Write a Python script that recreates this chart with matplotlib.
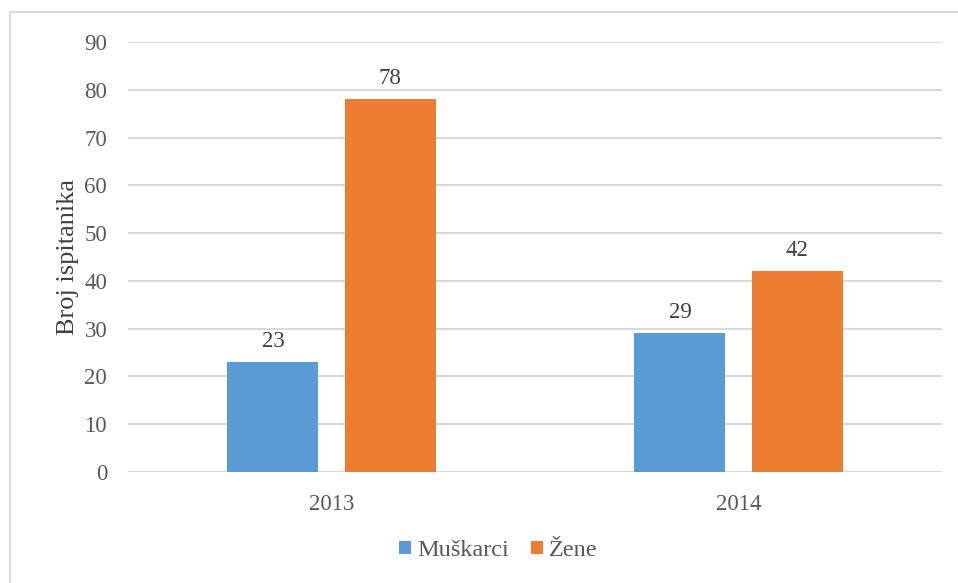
import numpy as np
import matplotlib
matplotlib.use("Agg")
import matplotlib.pyplot as plt
from matplotlib.patches import Rectangle

# podaci
godine = ["2013", "2014"]
muskarci = [23, 29]
zene = [78, 42]
serije = ["Muškarci", "Žene"]
y_ticks = [0, 10, 20, 30, 40, 50, 60, 70, 80, 90]

plt.rcParams['font.family'] = ['Liberation Serif', 'DejaVu Serif']

fig = plt.figure(figsize=(9.58, 5.83), dpi=100)
ax = fig.add_axes([128 / 958, 1 - 472 / 583, 814 / 958, 430 / 583])

# okvir grafikona
fig.patches.append(Rectangle((10 / 958, -0.5), 1.5, 1.5 - 12 / 583, transform=fig.transFigure,
                             fill=False, edgecolor='#d9d9d9', linewidth=1.5))

x = np.arange(len(godine))
w = 0.2236
gap = 0.064
b1 = ax.bar(x - (w + gap) / 2, muskarci, w, color='#5b9bd5', label=serije[0], zorder=3)
b2 = ax.bar(x + (w + gap) / 2, zene, w, color='#ed7d31', label=serije[1], zorder=3)

for bars in (b1, b2):
    for b in bars:
        ax.text(b.get_x() + b.get_width() / 2, b.get_height() + 2.2, str(int(b.get_height())),
                ha='center', va='bottom', fontsize=16.5, color='#404040')

ax.set_xlim(-0.5, 1.5)
ax.set_ylim(0, 90)
ax.set_yticks(y_ticks)
ax.set_xticks(x)
ax.set_xticklabels(godine)
ax.grid(axis='y', color='#d9d9d9', linewidth=1.5, zorder=0)
for s in ax.spines.values():
    s.set_visible(False)
ax.tick_params(axis='both', length=0, labelsize=16.5, colors='#595959')
ax.tick_params(axis='y', pad=15)
ax.tick_params(axis='x', pad=16)
ax.set_ylabel('Broj ispitanika', fontsize=19, color='#404040', labelpad=4)

fig.legend(loc='lower center', bbox_to_anchor=(498 / 958, 0.0), ncol=2, frameon=False,
           fontsize=17.5, handlelength=0.5, handleheight=0.5, handletextpad=0.25,
           columnspacing=0.9, labelcolor='#595959')

fig.savefig('out.png', dpi=100)
